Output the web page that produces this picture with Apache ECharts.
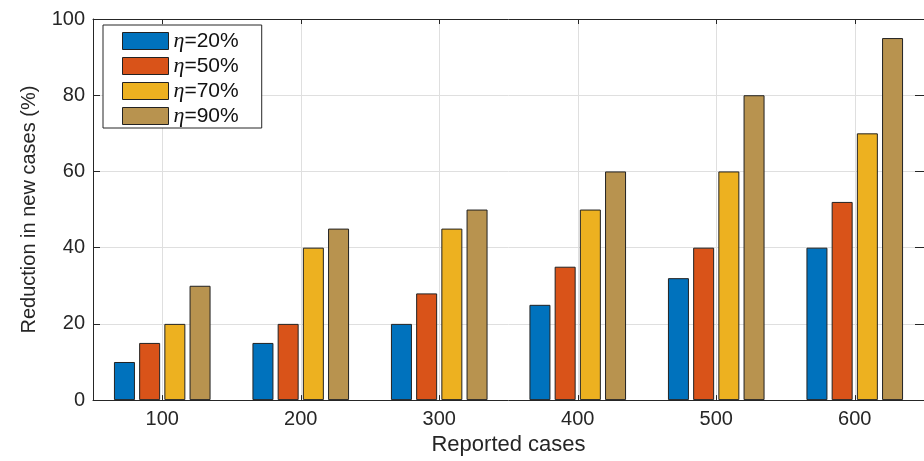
<!DOCTYPE html>
<html>
<head>
<meta charset="utf-8">
<title>Reduction in new cases</title>
<script src="https://cdn.jsdelivr.net/npm/echarts@6/dist/echarts.min.js"></script>
<style>
  html, body { margin: 0; padding: 0; background: #ffffff; }
  #chart { width: 924px; height: 461px; }
</style>
</head>
<body>
<div id="chart"></div>
<script>
// Reported cases on the x axis
const categories = ['100', '200', '300', '400', '500', '600'];
// Reduction in new cases (%) for each efficiency level η
const eta20 = [10, 15, 20, 25, 32, 40];
const eta50 = [15, 20, 28, 35, 40, 52];
const eta70 = [20, 40, 45, 50, 60, 70];
const eta90 = [30, 45, 50, 60, 80, 95];
const seriesNames = ['η=20%', 'η=50%', 'η=70%', 'η=90%'];
const seriesColors = ['#0072BD', '#D95319', '#EDB120', '#B8934F'];
const seriesValues = [eta20, eta50, eta70, eta90];

const axisColor = '#262626';
const gridColor = '#dfdfdf';
const sans = 'Liberation Sans, Arial, Helvetica, sans-serif';

// half-step slots so grid lines / box ticks can sit on category centres
const halfSlots = [];
for (let i = 0; i <= categories.length * 2; i++) halfSlots.push(String(i));
const onCentre = (idx) => idx % 2 === 1;

const chart = echarts.init(document.getElementById('chart'), null, { renderer: 'canvas' });

chart.setOption({
  backgroundColor: '#ffffff',
  animation: false,
  grid: { left: 93, right: -8, top: 19, bottom: 59, containLabel: false },
  legend: {
    orient: 'vertical',
    left: 103,
    top: 25,
    padding: [5, 23, 1, 19],
    itemWidth: 46,
    itemHeight: 17,
    itemGap: 3,
    icon: 'rect',
    borderColor: axisColor,
    borderWidth: 1,
    backgroundColor: '#ffffff',
    itemStyle: { borderColor: '#222222', borderWidth: 1 },
    data: seriesNames,
    formatter: (name) => '{eta|η}{txt|' + name.slice(1) + '}',
    textStyle: {
      color: '#111111',
      rich: {
        eta: { fontFamily: 'Liberation Serif, serif', fontStyle: 'italic', fontSize: 22, color: '#111111' },
        txt: { fontFamily: sans, fontSize: 21, color: '#111111' }
      }
    }
  },
  xAxis: [
    {
      type: 'category',
      data: categories,
      position: 'bottom',
      boundaryGap: true,
      name: 'Reported cases',
      nameLocation: 'middle',
      nameGap: 31,
      nameTextStyle: { fontFamily: sans, fontSize: 22, color: axisColor },
      axisLine: { show: true, lineStyle: { color: axisColor, width: 1 } },
      axisTick: { show: true, alignWithLabel: true, inside: true, length: 5, lineStyle: { color: axisColor } },
      axisLabel: { fontFamily: sans, fontSize: 20, color: axisColor, margin: 9 },
      splitLine: { show: false }
    },
    {
      // box top edge, with centre grid lines and ticks
      type: 'category',
      data: halfSlots,
      position: 'top',
      boundaryGap: false,
      axisLine: { show: true, onZero: false, lineStyle: { color: axisColor, width: 1 } },
      axisTick: { show: true, inside: true, length: 5, interval: onCentre, lineStyle: { color: axisColor } },
      axisLabel: { show: false },
      splitLine: { show: true, interval: onCentre, lineStyle: { color: gridColor, width: 1 } }
    }
  ],
  yAxis: [
    {
      type: 'value',
      min: 0,
      max: 100,
      interval: 20,
      position: 'left',
      name: 'Reduction in new cases (%)',
      nameLocation: 'middle',
      nameGap: 54,
      nameTextStyle: { fontFamily: sans, fontSize: 20, color: axisColor },
      axisLine: { show: true, lineStyle: { color: axisColor, width: 1 } },
      axisTick: { show: true, inside: true, length: 7, lineStyle: { color: axisColor } },
      axisLabel: { fontFamily: sans, fontSize: 20, color: axisColor, margin: 8 },
      splitLine: { show: true, lineStyle: { color: gridColor, width: 1 } }
    },
    {
      type: 'value',
      min: 0,
      max: 100,
      interval: 20,
      position: 'right',
      axisLine: { show: true, lineStyle: { color: axisColor, width: 1 } },
      axisTick: { show: true, inside: true, length: 9, lineStyle: { color: axisColor } },
      axisLabel: { show: false },
      splitLine: { show: false }
    }
  ],
  series: seriesNames.map((name, i) => ({
    name: name,
    type: 'bar',
    xAxisIndex: 0,
    yAxisIndex: 0,
    data: seriesValues[i],
    barWidth: 21,
    barGap: '20%',
    itemStyle: { color: seriesColors[i], borderColor: '#222222', borderWidth: 1 },
    emphasis: { disabled: true }
  }))
});
</script>
</body>
</html>
